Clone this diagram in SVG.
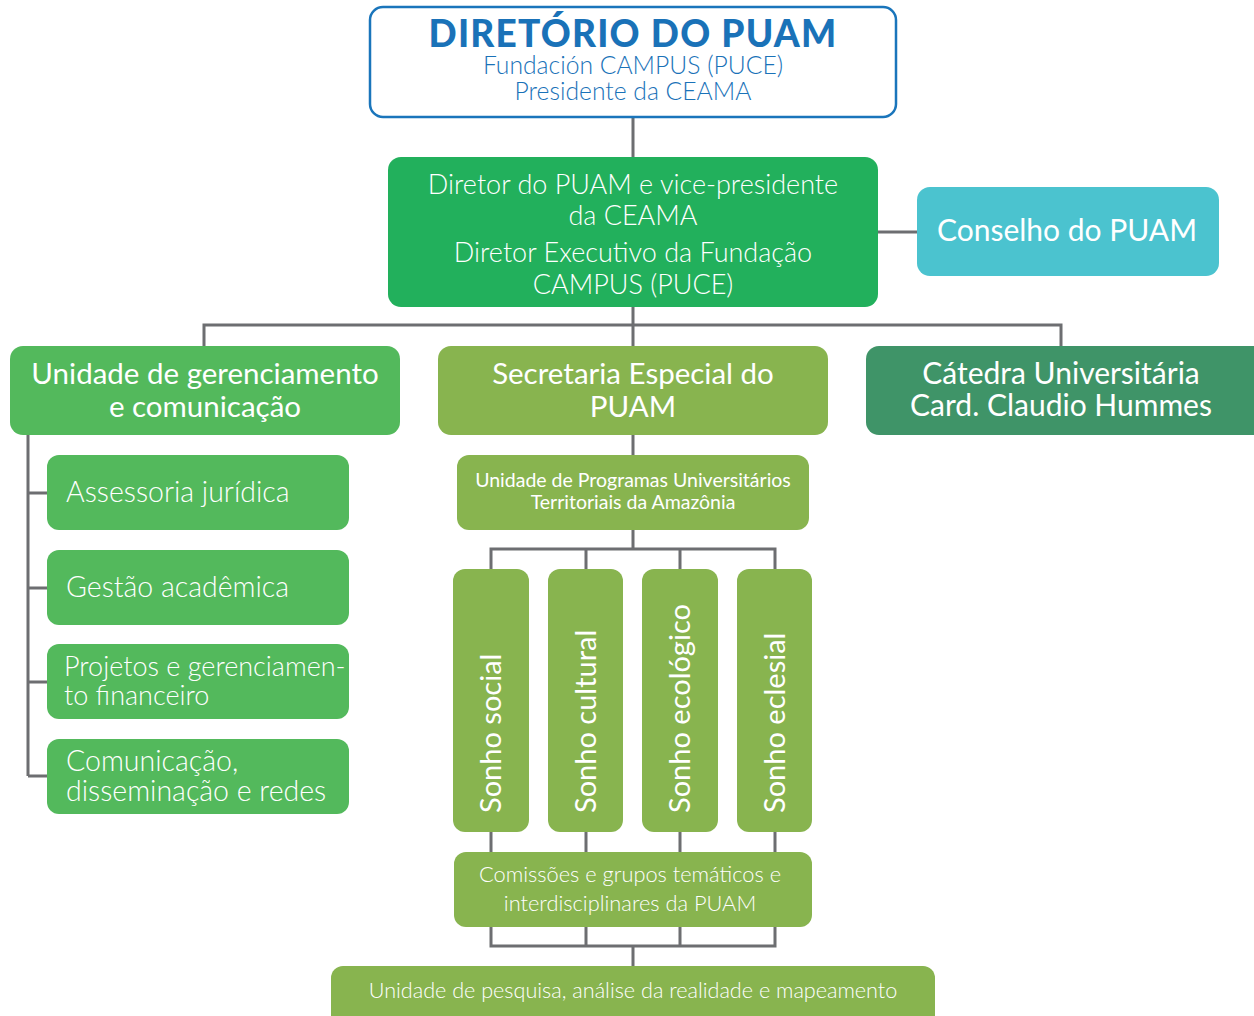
<svg xmlns="http://www.w3.org/2000/svg" width="1254" height="1016" viewBox="0 0 1254 1016">
<style>
.t{font-family:Lato,"Open Sans","Liberation Sans",sans-serif;fill:#fff;text-anchor:middle}
.l{font-weight:300}
.s{text-anchor:start}
.c{fill:none;stroke:#6d6e71;stroke-width:3}
</style>
<rect width="1254" height="1016" fill="#fff"/>
<g id="connectors" class="c">
<path d="M633 117V157M878 232H917M633 307V346M204 346V325H1061V346M28 435V776M28 493H47M28 588H47M28 682H47M28 776H47M633 435V455M633 530V549M491 569V549H775V569M586 549V569M680 549V569M491 832V852M586 832V852M680 832V852M775 832V852M491 927V946H775V927M586 927V946M680 927V946M633 946V966"/>
</g>
<g id="diretorio">
<rect x="370" y="7" width="526" height="110" rx="13" fill="#fff" stroke="#1a75bb" stroke-width="2.5"/>
<text class="t" x="633" y="47" style="fill:#1a72b8;font-weight:900;font-size:37px;letter-spacing:1.2px">DIRETÓRIO DO PUAM</text>
<text class="t l" x="633" y="74" style="fill:#1a72b8;font-size:24.7px">Fundación CAMPUS (PUCE)</text>
<text class="t l" x="633" y="100" style="fill:#1a72b8;font-size:24.7px">Presidente da CEAMA</text>
</g>
<g id="diretor">
<rect x="388" y="157" width="490" height="150" rx="13" fill="#22b05c"/>
<text class="t l" x="633" y="194" font-size="27">Diretor do PUAM e vice-presidente</text>
<text class="t l" x="633" y="225" font-size="27">da CEAMA</text>
<text class="t l" x="633" y="262" font-size="27">Diretor Executivo da Fundação</text>
<text class="t l" x="633" y="294" font-size="27">CAMPUS (PUCE)</text>
</g>
<g id="conselho">
<rect x="917" y="187" width="302" height="89" rx="13" fill="#4bc3cf"/>
<text class="t" x="1067" y="241" font-size="30">Conselho do PUAM</text>
</g>
<g id="unidade-gerenciamento">
<rect x="10" y="346" width="390" height="89" rx="13" fill="#53b95c"/>
<text class="t" x="205" y="384" font-size="29.5">Unidade de gerenciamento</text>
<text class="t" x="205" y="417" font-size="29.5">e comunicação</text>
</g>
<g id="secretaria">
<rect x="438" y="346" width="390" height="89" rx="13" fill="#88b44f"/>
<text class="t" x="633" y="384" font-size="29.5">Secretaria Especial do</text>
<text class="t" x="633" y="417" font-size="29.5">PUAM</text>
</g>
<g id="catedra">
<rect x="866" y="346" width="400" height="89" rx="13" fill="#3f9468"/>
<text class="t" x="1061" y="384" font-size="30">Cátedra Universitária</text>
<text class="t" x="1061" y="416" font-size="30">Card. Claudio Hummes</text>
</g>
<g id="assessoria">
<rect x="47" y="455" width="302" height="75" rx="12" fill="#53b95c"/>
<text class="t l s" x="66" y="502" font-size="28.5">Assessoria jurídica</text>
</g>
<g id="gestao">
<rect x="47" y="550" width="302" height="75" rx="12" fill="#53b95c"/>
<text class="t l s" x="66" y="597" font-size="28.5">Gestão acadêmica</text>
</g>
<g id="projetos">
<rect x="47" y="644" width="302" height="75" rx="12" fill="#53b95c"/>
<text class="t l s" x="64" y="676" font-size="27">Projetos e gerenciamen-</text>
<text class="t l s" x="64" y="705" font-size="27">to financeiro</text>
</g>
<g id="comunicacao">
<rect x="47" y="739" width="302" height="75" rx="12" fill="#53b95c"/>
<text class="t l s" x="66" y="771" font-size="28.5">Comunicação,</text>
<text class="t l s" x="66" y="801" font-size="28.5">disseminação e redes</text>
</g>
<g id="unidade-programas">
<rect x="457" y="455" width="352" height="75" rx="12" fill="#88b44f"/>
<text class="t" x="633" y="487" font-size="19.5">Unidade de Programas Universitários</text>
<text class="t" x="633" y="509" font-size="19.5">Territoriais da Amazônia</text>
</g>
<g id="sonho-social">
<rect x="453" y="569" width="76" height="263" rx="12" fill="#88b44f"/>
<text class="t s" transform="translate(501 813) rotate(-90)" font-size="29">Sonho social</text>
</g>
<g id="sonho-cultural">
<rect x="548" y="569" width="75" height="263" rx="12" fill="#88b44f"/>
<text class="t s" transform="translate(596 813) rotate(-90)" font-size="29">Sonho cultural</text>
</g>
<g id="sonho-ecologico">
<rect x="642" y="569" width="76" height="263" rx="12" fill="#88b44f"/>
<text class="t s" transform="translate(690 813) rotate(-90)" font-size="29">Sonho ecológico</text>
</g>
<g id="sonho-eclesial">
<rect x="737" y="569" width="75" height="263" rx="12" fill="#88b44f"/>
<text class="t s" transform="translate(785 813) rotate(-90)" font-size="29">Sonho eclesial</text>
</g>
<g id="comissoes">
<rect x="454" y="852" width="358" height="75" rx="12" fill="#88b44f"/>
<text class="t l" x="630" y="882" font-size="21.8">Comissões e grupos temáticos e</text>
<text class="t l" x="630" y="911" font-size="21.8">interdisciplinares da PUAM</text>
</g>
<g id="unidade-pesquisa">
<rect x="331" y="966" width="604" height="66" rx="12" fill="#88b44f"/>
<text class="t l" x="633" y="998" font-size="21.6">Unidade de pesquisa, análise da realidade e mapeamento</text>
</g>
</svg>
